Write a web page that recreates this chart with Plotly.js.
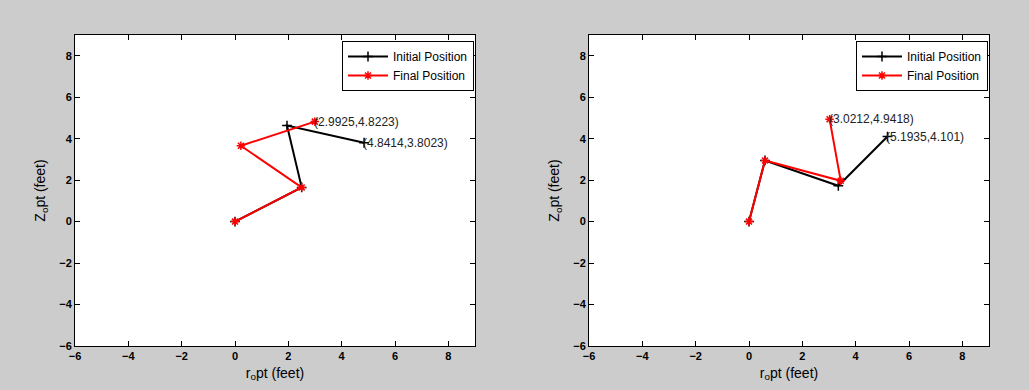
<!DOCTYPE html>
<html><head><meta charset="utf-8">
<script src="https://cdn.plot.ly/plotly-3.0.1.min.js"></script>
<style>html,body{margin:0;padding:0;background:#cccccc;}</style>
</head><body><div id="chart" style="width:1029px;height:390px;"></div>
<script>
// Left panel
const initLeftX = [0, 2.5, 1.95, 4.8414];
const initLeftY = [0, 1.65, 4.63, 3.8023];
const finalLeftX = [0, 2.5, 0.22, 2.9925];
const finalLeftY = [0, 1.65, 3.66, 4.8223];
// Right panel
const initRightX = [0, 0.6, 3.35, 5.1935];
const initRightY = [0, 2.95, 1.73, 4.101];
const finalRightX = [0, 0.6, 3.44, 3.0212];
const finalRightY = [0, 2.95, 1.97, 4.9418];
// Labels at end points
const labelsLeft = [{x: 2.9925, y: 4.8223}, {x: 4.8414, y: 3.8023}];
const labelsRight = [{x: 3.0212, y: 4.9418}, {x: 5.1935, y: 4.101}];
const tickVals = [-6, -4, -2, 0, 2, 4, 6, 8];

const font = 'Arial, "Liberation Sans", sans-serif';
function initTrace(x, y, xa, ya, leg) {
  return {x, y, xaxis: xa, yaxis: ya, mode: 'lines+markers', name: 'Initial Position',
    legend: leg, showlegend: true,
    line: {color: '#000000', width: 2},
    marker: {symbol: 'cross-thin-open', size: 7, color: '#000000', line: {width: 1.5, color: '#000000'}}};
}
function finalTrace(x, y, xa, ya, leg) {
  return {x, y, xaxis: xa, yaxis: ya, mode: 'lines+markers', name: 'Final Position',
    legend: leg, showlegend: true,
    line: {color: '#ff0000', width: 2},
    marker: {symbol: 'asterisk-open', size: 7, color: '#ff0000', line: {width: 1.5, color: '#ff0000'}}};
}
const fmt = v => String(v);
function labelAnn(p, xa, ya) {
  return {x: p.x, y: p.y, xref: xa, yref: ya, text: '(' + fmt(p.x) + ',' + fmt(p.y) + ')',
    showarrow: false, xanchor: 'left', yanchor: 'middle', xshift: -3,
    font: {family: font, size: 12, color: '#222222'}};
}
const data = [
  initTrace(initLeftX, initLeftY, 'x', 'y', 'legend'),
  finalTrace(finalLeftX, finalLeftY, 'x', 'y', 'legend'),
  initTrace(initRightX, initRightY, 'x2', 'y2', 'legend2'),
  finalTrace(finalRightX, finalRightY, 'x2', 'y2', 'legend2')
];
function xax(domain, anchor) {
  return {domain, anchor, range: [-6, 9], tickvals: tickVals, ticks: 'inside', ticklen: 5,
    tickcolor: '#000', mirror: 'ticks', showline: true, linecolor: '#000', linewidth: 1,
    showgrid: false, zeroline: false,
    tickfont: {family: font, size: 11, color: '#000', weight: 'bold'},
    title: {text: 'r<sub>o</sub>pt (feet)', font: {family: font, size: 14, color: '#000'}, standoff: 6}};
}
function yax(domain, anchor) {
  return {domain, anchor, range: [-6, 9], tickvals: tickVals, ticks: 'inside', ticklen: 5,
    tickcolor: '#000', mirror: 'ticks', showline: true, linecolor: '#000', linewidth: 1,
    showgrid: false, zeroline: false,
    tickfont: {family: font, size: 11, color: '#000', weight: 'bold'},
    title: {text: 'Z<sub>o</sub>pt (feet)', font: {family: font, size: 14, color: '#000'}, standoff: 10}};
}
const legendStyle = {bgcolor: '#ffffff', bordercolor: '#000', borderwidth: 1,
  font: {family: font, size: 12, color: '#000'}, xanchor: 'right', yanchor: 'top',
  tracegroupgap: 0, itemwidth: 40};
const layout = {
  width: 1029, height: 390, margin: {l: 0, r: 0, t: 0, b: 0},
  paper_bgcolor: '#cccccc', plot_bgcolor: '#ffffff',
  xaxis: xax([75/1029, 475/1029], 'y'),
  yaxis: yax([44/390, 355/390], 'x'),
  xaxis2: xax([589/1029, 989/1029], 'y2'),
  yaxis2: yax([44/390, 355/390], 'x2'),
  legend: Object.assign({x: 474/1029, y: 349/390}, legendStyle),
  legend2: Object.assign({x: 988/1029, y: 349/390}, legendStyle),
  annotations: labelsLeft.map(p => labelAnn(p, 'x', 'y')).concat(labelsRight.map(p => labelAnn(p, 'x2', 'y2')))
};
Plotly.newPlot('chart', data, layout, {displayModeBar: false, staticPlot: true});
</script></body></html>
